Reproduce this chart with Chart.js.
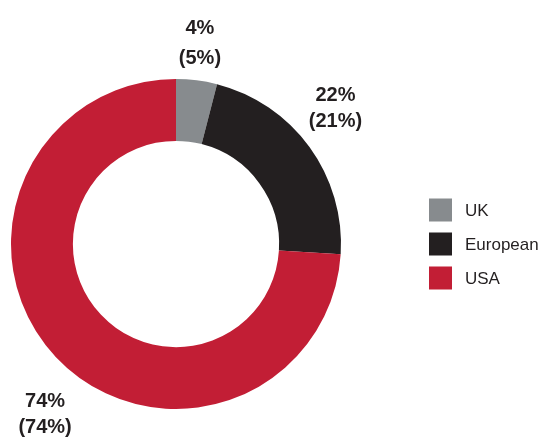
<!DOCTYPE html>
<html lang="en">
<head>
  <meta charset="UTF-8" />
  <title>Portfolio split</title>
  <script src="https://cdn.jsdelivr.net/npm/chart.js"></script>
  <style>
    html, body { margin: 0; padding: 0; background: #fff; }
    #wrap { width: 543px; height: 437px; }
  </style>
</head>
<body>
  <div id="wrap"><canvas id="donut"></canvas></div>

  <script>
    const categories = ['UK', 'European', 'USA'];
    const currentShare = [4, 22, 74];
    const previousShare = [5, 21, 74];
    const colours = ['#878b8e', '#231f20', '#c21e35'];

    // small nudges so labels sit where the original put them
    const labelNudge = [[-2, 5], [-8, -14], [20, 29]];

    const sliceLabels = {
      id: 'sliceLabels',
      afterDraw(chart) {
        const ctx = chart.ctx;
        const meta = chart.getDatasetMeta(0);
        ctx.save();
        ctx.fillStyle = '#231f20';
        ctx.font = 'bold 20px "Liberation Sans", Arial, sans-serif';
        ctx.textAlign = 'center';
        ctx.textBaseline = 'middle';
        meta.data.forEach((arc, i) => {
          const mid = (arc.startAngle + arc.endAngle) / 2;
          const r = arc.outerRadius + 42;
          const x = arc.x + Math.cos(mid) * r + labelNudge[i][0];
          const y = arc.y + Math.sin(mid) * r + labelNudge[i][1];
          const gap = i === 0 ? 15 : 13;
          ctx.fillText(currentShare[i] + '%', x, y - gap);
          ctx.fillText('(' + previousShare[i] + '%)', x, y + gap);
        });
        ctx.restore();
      }
    };

    const sideLegend = {
      id: 'sideLegend',
      afterDraw(chart) {
        const ctx = chart.ctx;
        const ds = chart.data.datasets[0];
        const left = chart.chartArea.right + 88;
        const midY = (chart.chartArea.top + chart.chartArea.bottom) / 2;
        const box = 23, step = 34;
        const top = midY - (chart.data.labels.length * step - (step - box)) / 2;
        ctx.save();
        ctx.font = '17px "Liberation Sans", Arial, sans-serif';
        ctx.textBaseline = 'middle';
        chart.data.labels.forEach((label, i) => {
          const y = top + i * step;
          ctx.fillStyle = ds.backgroundColor[i];
          ctx.fillRect(left, y, box, box);
          ctx.fillStyle = '#231f20';
          ctx.fillText(label, left + box + 13, y + box / 2 + 1);
        });
        ctx.restore();
      }
    };

    new Chart(document.getElementById('donut'), {
      type: 'doughnut',
      data: {
        labels: categories,
        datasets: [{
          data: currentShare,
          backgroundColor: colours,
          borderWidth: 0
        }]
      },
      options: {
        responsive: true,
        maintainAspectRatio: false,
        animation: false,
        cutout: '62.5%',
        layout: { padding: { top: 79, bottom: 28, left: 11, right: 202 } },
        plugins: {
          legend: { display: false },
          tooltip: { enabled: false }
        }
      },
      plugins: [sliceLabels, sideLegend]
    });
  </script>
</body>
</html>
